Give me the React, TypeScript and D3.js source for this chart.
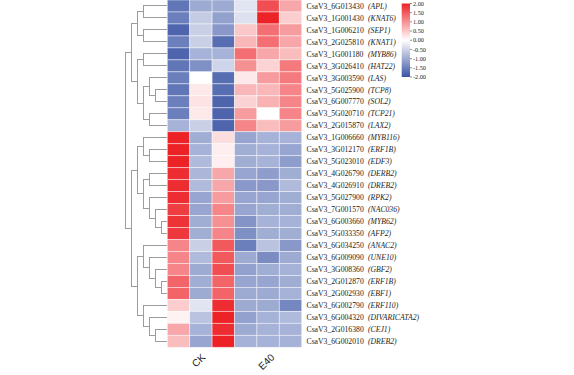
import React from "react";
import * as d3 from "d3";

const geneIds = [
  "CsaV3_6G013430", "CsaV3_1G001430", "CsaV3_1G006210", "CsaV3_2G025810", "CsaV3_1G001180",
  "CsaV3_3G026410", "CsaV3_3G003590", "CsaV3_5G025900", "CsaV3_6G007770", "CsaV3_5G020710",
  "CsaV3_2G015870", "CsaV3_1G006660", "CsaV3_3G012170", "CsaV3_5G023010", "CsaV3_4G026790",
  "CsaV3_4G026910", "CsaV3_5G027900", "CsaV3_7G001570", "CsaV3_6G003660", "CsaV3_5G033350",
  "CsaV3_6G034250", "CsaV3_6G009090", "CsaV3_3G008360", "CsaV3_2G012870", "CsaV3_2G002930",
  "CsaV3_6G002790", "CsaV3_6G004320", "CsaV3_2G016380", "CsaV3_6G002010",
];
const geneSymbols = [
  "APL", "KNAT6", "SEP1", "KNAT1", "MYB86", "HAT22", "LAS", "TCP8", "SOL2", "TCP21",
  "LAX2", "MYB116", "ERF1B", "EDF3", "DERB2", "DREB2", "RPK2", "NAC036", "MYB62", "AFP2",
  "ANAC2", "UNE10", "GBF2", "ERF1B", "EBF1", "ERF110", "DIVARICATA2", "CEJ1", "DREB2",
];
const samples = ["CK-1", "CK-2", "CK-3", "E40-1", "E40-2", "E40-3"];
const groups = ["CK", "E40"];
const values = [
  [-1.6, -1.0, -1.0, -0.3, 1.6, 0.8],
  [-1.5, -0.6, -1.1, -0.35, 2.0, 0.45],
  [-1.8, -0.55, -1.2, 0.5, 1.3, 0.9],
  [-1.5, -0.55, -1.7, 0.65, 1.3, 0.8],
  [-1.8, -0.9, -0.9, 1.3, 0.8, 0.6],
  [-1.6, -1.3, -0.5, 1.0, 0.4, 1.2],
  [-1.5, 0.0, -1.7, 0.2, 0.9, 1.2],
  [-1.6, 0.2, -1.7, 0.65, 0.65, 1.1],
  [-1.5, 0.25, -1.8, 0.4, 0.7, 1.1],
  [-1.5, 0.2, -1.8, 0.9, 0.0, 1.1],
  [-0.9, -0.55, -1.8, 1.1, 0.6, 0.9],
  [2.0, -0.95, 0.3, -1.05, -0.9, -0.9],
  [2.0, -0.9, 0.15, -0.95, -0.9, -1.05],
  [2.0, -0.8, 0.15, -0.95, -0.9, -1.15],
  [1.9, -0.85, 0.8, -1.05, -1.15, -0.95],
  [1.9, -0.8, 0.8, -1.2, -1.2, -0.8],
  [1.9, -1.05, 0.9, -1.05, -1.05, -0.95],
  [1.75, -1.05, 1.1, -1.05, -0.95, -0.95],
  [1.85, -0.95, 1.0, -1.25, -0.9, -0.9],
  [1.8, -0.95, 1.1, -1.3, -0.95, -0.95],
  [1.1, -0.55, 1.5, -1.5, -0.7, -1.2],
  [1.1, -0.8, 1.5, -1.0, -1.35, -1.0],
  [1.1, -1.0, 1.6, -1.1, -0.95, -0.9],
  [1.4, -0.95, 1.4, -1.05, -1.05, -0.95],
  [1.4, -1.0, 1.4, -1.0, -1.0, -0.9],
  [0.45, -0.3, 1.9, -1.0, -1.0, -1.4],
  [0.12, -0.7, 2.0, -1.1, -0.9, -0.8],
  [0.8, -0.9, 1.9, -1.0, -0.9, -0.9],
  [0.6, -1.05, 2.0, -0.9, -0.9, -0.9],
];
const legendTicks = [2.0, 1.5, 1.0, 0.5, 0.0, -0.5, -1.0, -1.5, -2.0];
// row dendrogram: [mergeHeight, left, right]; numbers are row indices
const rowTree: any = [7,
  [6,
    [5, [4, 0, 1], [4, 2, 3]],
    [5, [4, 4, 5], [4, [3, 6, [2, 7, 8]], [3, 9, 10]]]],
  [6,
    [5, [4, 11, [3, 12, 13]], [4, [3, 14, 15], [3, 16, [2, 17, [1, 18, 19]]]]],
    [5, [4, 20, [3, 21, [2, 22, [1, 23, 24]]]], [4, 25, [3, 26, [2, 27, 28]]]]]];

const W = 574, H = 375;
const hmLeft = 167.3, hmRight = 301.7, hmTop = 0, hmBottom = 347.3;

export default function App() {
  const x = d3.scaleBand<string>().domain(samples).range([hmLeft, hmRight]);
  const y = d3.scaleBand<number>().domain(d3.range(geneIds.length)).range([hmTop, hmBottom]);
  const color = d3.scaleLinear<string>().domain([-2, 0, 2]).range(["#3a54a5", "#ffffff", "#ec2227"]).clamp(true);
  const hx = d3.scaleLinear().domain([0, 7]).range([hmLeft, 125]);
  const ly = d3.scaleLinear().domain([2, -2]).range([3.5, 77]);

  const root = d3.hierarchy(rowTree, (d: any) => (Array.isArray(d) ? d.slice(1) : null));
  const yPos = new Map<any, number>();
  root.eachAfter((n: any) => {
    if (!n.children) yPos.set(n, (y(n.data) as number) + y.bandwidth() / 2);
    else yPos.set(n, d3.mean(n.children, (c: any) => yPos.get(c)) as number);
  });
  const hOf = (n: any) => (n.children ? n.data[0] : 0);
  const segs: JSX.Element[] = [];
  let k = 0;
  root.each((n: any) => {
    if (!n.children) return;
    const xn = hx(hOf(n));
    const ys = n.children.map((c: any) => yPos.get(c));
    segs.push(<line key={k++} x1={xn} x2={xn} y1={ys[0]} y2={ys[1]} />);
    n.children.forEach((c: any, i: number) => {
      segs.push(<line key={k++} x1={xn} x2={hx(hOf(c))} y1={ys[i]} y2={ys[i]} />);
    });
  });

  const gradId = "legGrad";
  return (
    <div style={{ position: "fixed", left: 0, top: 0 }}>
      <svg width={W} height={H} style={{ display: "block", background: "#fff" }}>
        <defs>
          <linearGradient id={gradId} x1="0" y1="0" x2="0" y2="1">
            {[2, 1, 0, -1, -2].map((v, i) => (
              <stop key={i} offset={`${i * 25}%`} stopColor={color(v)} />
            ))}
          </linearGradient>
        </defs>
        <g stroke="#9c9c9c" strokeWidth={1} fill="none" shapeRendering="crispEdges">{segs}</g>
        <g>
          {values.map((row, i) =>
            row.map((v, j) => (
              <rect key={`${i}-${j}`} x={x(samples[j])} y={y(i)} width={x.bandwidth()} height={y.bandwidth()}
                fill={color(v)} stroke="rgba(255,255,255,0.55)" strokeWidth={0.8} />
            ))
          )}
        </g>
        <g fontFamily="'Liberation Serif', 'Times New Roman', serif" fontSize={7.7} fill="#222">
          {geneIds.map((g, i) => (
            <text key={i} y={(y(i) as number) + y.bandwidth() / 2 + 2.7}>
              <tspan x={306.5}>{g}</tspan>
              <tspan x={368} fontStyle="italic">({geneSymbols[i]})</tspan>
            </text>
          ))}
        </g>
        <g fontFamily="'Liberation Sans', Arial, sans-serif" fontSize={10} fill="#222">
          {groups.map((g, gi) => {
            const cx = (x(samples[gi * 3]) as number) + 1.5 * x.bandwidth();
            return (
              <text key={g} textAnchor="end" transform={`translate(${cx + 5 + gi * 2},${358}) rotate(-45)`}>{g}</text>
            );
          })}
        </g>
        <g>
          <rect x={401.7} y={ly(2)} width={8.3} height={ly(-2) - ly(2)} fill={`url(#${gradId})`} />
          {legendTicks.map((t) => (
            <g key={t} transform={`translate(410,${ly(t)})`}>
              <line x1={0} x2={2} stroke="#444" strokeWidth={0.6} />
              <text x={3} y={2.1} fontFamily="'Liberation Serif', 'Times New Roman', serif" fontSize={6.2} fill="#222">
                {t.toFixed(2)}
              </text>
            </g>
          ))}
        </g>
      </svg>
    </div>
  );
}
